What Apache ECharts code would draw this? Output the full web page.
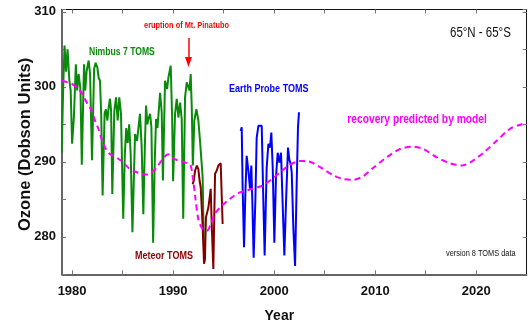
<!DOCTYPE html>
<html><head><meta charset="utf-8">
<script src="https://cdn.jsdelivr.net/npm/echarts@6/dist/echarts.min.js"></script>
<style>html,body{margin:0;padding:0;background:#fff}#c{width:529px;height:325px}</style>
</head><body><div id="c"></div>
<script>
const xTickValues = [1980, 1985, 1990, 1995, 2000, 2005, 2010, 2015, 2020];
const xTickLabels = [1980, 1990, 2000, 2010, 2020];
const yTickLabels = [280, 290, 300, 310];
const pinatuboYear = 1991.52;

const nimbus7 = [
[1978.97,291.2],[1979.12,300],[1979.25,305.5],[1979.4,302],[1979.55,305],[1979.72,301],[1979.86,299.5],[1980.0,292.4],
[1980.18,296],[1980.37,303],[1980.5,299.5],[1980.65,301.7],[1980.83,299.6],[1980.96,289.6],
[1981.18,303],[1981.3,299.5],[1981.44,302.1],[1981.64,303.5],[1981.78,301.7],[1981.97,290.2],
[1982.18,302.4],[1982.33,303.2],[1982.5,302.6],[1982.63,301.2],[1982.76,300.8],[1982.88,296.4],[1983.02,285.5],
[1983.22,296.5],[1983.35,297],[1983.49,295.5],[1983.62,297.2],[1983.75,298.4],[1983.86,296.8],[1983.98,285.7],
[1984.18,296.8],[1984.35,298.6],[1984.51,295.5],[1984.67,298.6],[1984.84,296.4],[1985.06,282.4],
[1985.22,291],[1985.36,294.5],[1985.5,292.5],[1985.65,295],[1985.8,291],[1985.97,280.6],
[1986.23,293.7],[1986.43,292.8],[1986.6,295],[1986.72,296.4],[1986.89,291.9],[1987.05,283],
[1987.2,292],[1987.32,297.5],[1987.45,295],[1987.55,295.7],[1987.72,296.4],[1987.85,294.6],[1988.02,279.2],
[1988.18,290],[1988.31,295.7],[1988.45,294.5],[1988.54,296.1],[1988.71,299.2],[1988.87,296.6],[1988.99,287.5],
[1989.2,300.8],[1989.4,299.7],[1989.53,301.2],[1989.76,302.8],[1989.9,296],[1990.0,287.4],
[1990.19,296.4],[1990.36,298.4],[1990.52,295.9],[1990.69,297.9],[1990.85,295.7],[1991.0,282.4],
[1991.18,298.6],[1991.35,300.6],[1991.51,300.8],[1991.62,299.5],[1991.74,301.7],[1991.85,297],[1991.95,289.5],
[1992.1,295.5],[1992.3,297],[1992.5,295.5],[1992.66,292.8],[1992.83,292.6],[1992.92,288],[1993.0,282],[1993.07,278]
];

const meteor = [
[1991.93,287.0],[1992.05,287.5],[1992.17,288.8],[1992.35,289.5],[1992.5,289],[1992.62,287.5],[1992.73,286.6],
[1992.9,282.1],[1993.06,276.4],[1993.15,277],[1993.25,282.6],[1993.49,283.9],[1993.72,286.4],[1993.82,281.7],
[1993.98,275.7],[1994.15,288.4],[1994.31,288.8],[1994.48,289.5],[1994.71,289.8],[1994.8,289.9],[1994.9,281.7]
];

const earthProbe = [
[1996.69,294.1],[1996.79,294.6],[1996.88,286.6],[1997.02,278.6],[1997.15,285.7],[1997.28,290.8],[1997.45,288.8],
[1997.61,286.4],[1997.74,289.5],[1997.84,284.8],[1997.97,277.2],
[1998.14,284.8],[1998.27,293.2],[1998.44,294.8],[1998.6,295],[1998.77,294.8],[1998.93,284.8],[1999.06,277.5],
[1999.26,289.2],[1999.43,292.4],[1999.59,291.9],[1999.72,293.9],[1999.86,289.2],[2000.02,279.2],
[2000.18,287.9],[2000.35,291.2],[2000.51,289.9],[2000.68,291.2],[2000.81,285.7],[2001.01,277.5],
[2001.18,284.8],[2001.37,291.9],[2001.5,290.3],[2001.64,289.7],[2001.74,288.6],[2001.9,281.2],[2002.07,276.1],
[2002.23,287],[2002.36,294.6],[2002.46,296.6]
];

const model = [
[1979.0,300.8],[1979.96,300.4],[1980.45,299.9],[1980.95,299.2],[1981.44,297.9],[1981.94,296.8],[1982.27,295.5],
[1982.6,294.4],[1982.93,293.0],[1983.26,291.9],[1983.58,291.2],[1984.08,290.8],[1984.57,290.4],[1985.07,289.9],
[1985.56,289.2],[1986.2,288.7],[1986.9,288.4],[1987.4,288.3],[1987.9,288.6],[1988.5,289.5],[1989.0,290.4],
[1989.5,291.0],[1990.0,290.5],[1990.6,290.1],[1991.2,289.9],[1991.7,289.6],[1991.95,287.9],[1992.2,285.2],
[1992.5,282.3],[1992.85,281.2],[1993.35,280.8],[1993.7,281.6],[1994.15,283.1],[1994.65,283.9],[1995.3,284.7],
[1995.96,285.4],[1996.6,285.9],[1997.6,286.3],[1998.6,286.7],[1999.6,287.5],[2000.58,288.6],[2001.57,289.6],
[2002.56,290.1],[2003.55,290.0],[2004.54,289.3],[2005.86,288.2],[2006.85,287.7],[2007.84,287.6],[2008.83,288.1],
[2009.82,289.2],[2011.14,290.6],[2012.46,291.7],[2013.78,292.0],[2014.77,291.7],[2016.09,290.6],[2017.41,289.8],
[2018.57,289.5],[2019.39,289.9],[2020.71,291.2],[2022.03,292.8],[2023.35,294.4],[2024.5,295.0],[2025.0,295.2]
];

const SANS = '"Liberation Sans", Arial, sans-serif';

function txt(text, x, y, size, color, weight, align) {
  const font = (weight || 'bold') + ' ' + size + 'px ' + SANS;
  return {type: 'text', x: x, y: y, scaleX: 0.82, silent: true, z: 100,
    style: {text: text, fill: color, font: font, align: align || 'left', textAlign: align || 'left',
            verticalAlign: 'middle', textVerticalAlign: 'middle'}};
}

const chart = echarts.init(document.getElementById('c'), null, {renderer: 'canvas'});
const xBase = {type: 'value', min: 1979, max: 2025, splitLine: {show: false}};
const yBase = {type: 'value', min: 275, max: 310.3, interval: 5, splitLine: {show: false}};
chart.setOption({
  animation: false,
  backgroundColor: '#fff',
  grid: {left: 62, right: 2.3, top: 9.5, bottom: 50.7, containLabel: false, outerBoundsMode: 'none'},
  xAxis: [
    Object.assign({}, xBase, {
      position: 'bottom',
      axisLine: {show: true, onZero: false, lineStyle: {color: '#333', width: 1.5}},
      axisTick: {show: true, inside: true, length: 4, customValues: xTickValues, lineStyle: {color: '#777'}},
      axisLabel: {customValues: xTickLabels, margin: 11, fontSize: 13, fontWeight: 'bold', fontFamily: SANS, color: '#111',
                  formatter: v => String(v)},
      name: 'Year', nameLocation: 'middle', nameGap: 35,
      nameTextStyle: {fontSize: 14, fontWeight: 'bold', fontFamily: SANS, color: '#111', padding: [0, 30, 0, 0]}
    }),
    Object.assign({}, xBase, {
      position: 'top',
      axisLine: {show: true, onZero: false, lineStyle: {color: '#111', width: 1}},
      axisTick: {show: true, inside: true, length: 4, customValues: xTickValues, lineStyle: {color: '#777'}},
      axisLabel: {show: false}
    })
  ],
  yAxis: [
    Object.assign({}, yBase, {
      position: 'left',
      axisLine: {show: true, onZero: false, lineStyle: {color: '#333', width: 1.5}},
      axisTick: {show: true, inside: true, length: 4, lineStyle: {color: '#777'}},
      axisLabel: {margin: 6, fontSize: 13, fontWeight: 'bold', fontFamily: SANS, color: '#111',
                  formatter: v => yTickLabels.indexOf(Math.round(v * 10) / 10) >= 0 ? String(v) : ''},
      name: 'Ozone (Dobson Units)', nameLocation: 'middle', nameGap: 28, nameMoveOverlap: false,
      nameTextStyle: {fontSize: 16.5, fontWeight: 'bold', fontFamily: SANS, color: '#111', padding: [0, 5, 0, 0]}
    }),
    Object.assign({}, yBase, {
      position: 'right',
      axisLine: {show: true, onZero: false, lineStyle: {color: '#111', width: 1}},
      axisTick: {show: true, inside: true, length: 4, lineStyle: {color: '#777'}},
      axisLabel: {show: false}
    })
  ],
  series: [
    {name: 'Nimbus 7 TOMS', type: 'line', data: nimbus7, showSymbol: false, symbol: 'none',
     lineStyle: {color: '#0a8a0a', width: 2}, z: 2,
     markLine: {silent: true, symbol: ['none', 'triangle'], symbolSize: [7, 10], animation: false,
       lineStyle: {color: '#ff0000', width: 1.5, type: 'solid'}, label: {show: false},
       data: [[{coord: [pinatuboYear, 306.5]}, {coord: [pinatuboYear, 303.3]}]]}},
    {name: 'Meteor TOMS', type: 'line', data: meteor, symbol: 'none', lineStyle: {color: '#800000', width: 2}, z: 3},
    {name: 'Earth Probe TOMS', type: 'line', data: earthProbe, symbol: 'none', lineStyle: {color: '#0000ff', width: 2}, z: 3},
    {name: 'model', type: 'line', data: model, symbol: 'none', smooth: 0.3,
     lineStyle: {color: '#ff00ff', width: 2, type: [6, 4]}, z: 4}
  ],
  graphic: [
    txt('Nimbus 7 TOMS', 89, 52, 10.5, '#0a8a0a'),
    txt('eruption of Mt. Pinatubo', 186.5, 25.7, 9, '#ff0000', 'bold', 'center'),
    txt('Earth Probe TOMS', 229, 89.3, 11, '#0000ff'),
    txt('recovery predicted by model', 347.3, 120, 12.5, '#ff00ff'),
    txt('65°N - 65°S', 450, 33.3, 14, '#111', 'normal'),
    txt('Meteor TOMS', 135, 256, 11, '#8b0000'),
    txt('version 8 TOMS data', 446, 254, 9, '#111', 'normal')
  ]
});
</script></body></html>
